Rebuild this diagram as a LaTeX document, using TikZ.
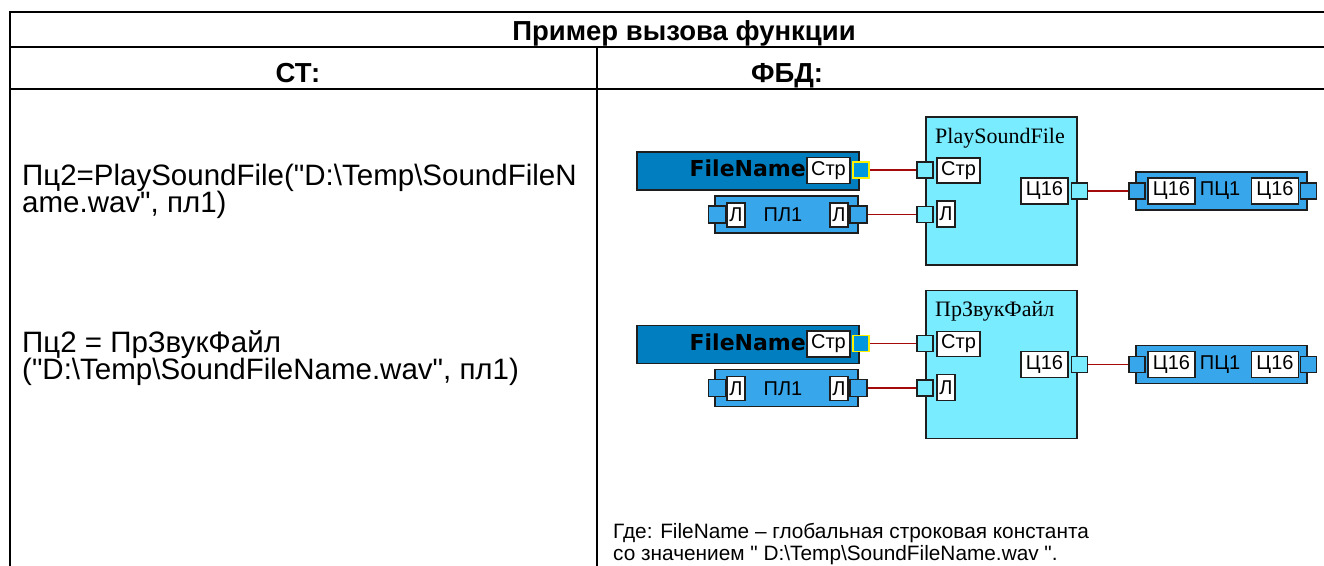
\documentclass[tikz,border=0pt]{standalone}
\usepackage{fontspec}
\setmainfont{Liberation Sans}[Ligatures=TeXOff]
\newfontfamily\verdfont{DejaVu Sans}
\newfontfamily\serfont{Liberation Serif}
\usepackage{xcolor}
\usetikzlibrary{positioning}
\definecolor{constblue}{RGB}{0,126,192}
\definecolor{varblue}{RGB}{56,166,234}
\definecolor{funccyan}{RGB}{122,236,255}
\definecolor{pinblue}{RGB}{0,150,224}
\definecolor{wirered}{RGB}{165,10,10}
\definecolor{blkline}{RGB}{30,30,30}
\tikzset{
  tabline/.style={line width=1.7pt},
  blk/.style={draw=blkline, line width=1.4pt, inner sep=0pt},
  constblk/.style={blk, fill=constblue, minimum width=222pt, minimum height=38pt},
  varblk/.style={blk, fill=varblue, minimum height=37pt},
  funcblk/.style={blk, fill=funccyan, minimum width=151pt, minimum height=148pt},
  typebox/.style={draw=blkline, line width=1.1pt, fill=white, inner sep=0pt,
    minimum height=26pt, font=\fontsize{20}{20}\selectfont},
  pinsq/.style={draw=blkline, line width=1.1pt, minimum size=16pt, inner sep=0pt},
  wire/.style={draw=wirered, line width=1.4pt},
  celltxt/.style={inner sep=0pt, anchor=base west, font=\fontsize{29.5}{27}\selectfont},
  notetxt/.style={inner sep=0pt, anchor=base west, font=\fontsize{20.8}{24}\selectfont},
  headtxt/.style={inner sep=0pt, anchor=base, font=\bfseries\fontsize{27.5}{27.5}\selectfont},
  lbl/.style={inner sep=0pt, font=\fontsize{20}{20}\selectfont}
}

\begin{document}
\begin{tikzpicture}[x=1pt,y=-1pt]
  \useasboundingbox (0,0) rectangle (1324,565);
  % table
  \draw[tabline] (1340,12) -- (10,12) -- (10,575);
  \draw[tabline] (10,47) -- (1340,47);
  \draw[tabline] (10,89) -- (1340,89);
  \draw[tabline] (596.7,47) -- (596.7,575);
  \node[headtxt] (head) at (684,40.5) {Пример вызова функции};
  \node[headtxt] (hst) at (298,82) {СТ:};
  \node[headtxt] (hfbd) at (787,82) {ФБД:};

  % ST column
  \node[celltxt] (st1a) at (22,185) {Пц2=PlaySoundFile("D:\textbackslash Temp\textbackslash SoundFileN};
  \node[celltxt] (st1b) at (22,212) {ame.wav", пл1)};
  \node[celltxt] (st2a) at (22,352) {Пц2 = ПрЗвукФайл};
  \node[celltxt] (st2b) at (22,379) {("D:\textbackslash Temp\textbackslash SoundFileName.wav", пл1)};

  % FBD column
  \foreach \i/\dy/\fname in {1/0/PlaySoundFile, 2/173.5/ПрЗвукФайл}{
    \begin{scope}[yshift=-\dy pt]
      \node[constblk] (cst\i) at (748,171) {};
      \node[inner sep=0pt, anchor=base east, font=\verdfont\bfseries\fontsize{22}{22}\selectfont]
        (cstname\i) at (806,176.5) {FileName};
      \node[typebox, minimum width=43pt] (cstty\i) at (828.5,170.5) {Стр};
      \node[pinsq, draw=yellow, fill=pinblue] (cstout\i) at (861,170) {};

      \node[varblk, minimum width=143pt] (pl\i) at (786.5,214.5) {};
      \node[lbl] (plname\i) at (783,215) {ПЛ1};
      \node[pinsq, fill=varblue, minimum size=17pt] (plin\i) at (717,214.5) {};
      \node[typebox, minimum width=18pt, minimum height=24pt] (plinty\i) at (736,215) {Л};
      \node[typebox, minimum width=18pt, minimum height=24pt] (plouty\i) at (839,215) {Л};
      \node[pinsq, fill=varblue, minimum size=17pt] (plout\i) at (858.5,214.5) {};

      \node[funcblk] (fb\i) at (1001.5,191) {};
      \node[inner sep=0pt, anchor=base west, font=\serfont\fontsize{22}{22}\selectfont]
        (fbname\i) at (935,143) {\fname};
      \node[pinsq, fill=funccyan] (fbin\i) at (925,170) {};
      \node[typebox, minimum width=43pt, minimum height=25pt] (fbinty\i) at (958.5,170.5) {Стр};
      \node[pinsq, fill=funccyan] (fbinb\i) at (925,214.5) {};
      \node[typebox, minimum width=18pt] (fbinbty\i) at (946,214) {Л};
      \node[typebox, minimum width=47pt] (fbouty\i) at (1044.5,191) {Ц16};
      \node[pinsq, fill=funccyan] (fbout\i) at (1079.5,191) {};

      \node[varblk, minimum width=171pt, minimum height=38pt] (pc\i) at (1221.5,191) {};
      \node[pinsq, fill=varblue] (pcin\i) at (1137,191) {};
      \node[typebox, minimum width=47pt] (pcinty\i) at (1171.5,191) {Ц16};
      \node[lbl] (pcname\i) at (1220,191) {ПЦ1};
      \node[typebox, minimum width=47pt] (pcouty\i) at (1275,191) {Ц16};
      \node[pinsq, fill=varblue] (pcout\i) at (1308.5,191) {};

      \draw[wire] (cstout\i) -- (fbin\i);
      \draw[wire] (plout\i) -- (fbinb\i);
      \draw[wire] (fbout\i) -- (pcin\i);
    \end{scope}
  }

  \node[notetxt] (note1) at (613,538) {Где: FileName – глобальная строковая константа};
  \node[notetxt] (note2) at (613,560) {со значением " D:\textbackslash Temp\textbackslash SoundFileName.wav ".};
\end{tikzpicture}
\end{document}
